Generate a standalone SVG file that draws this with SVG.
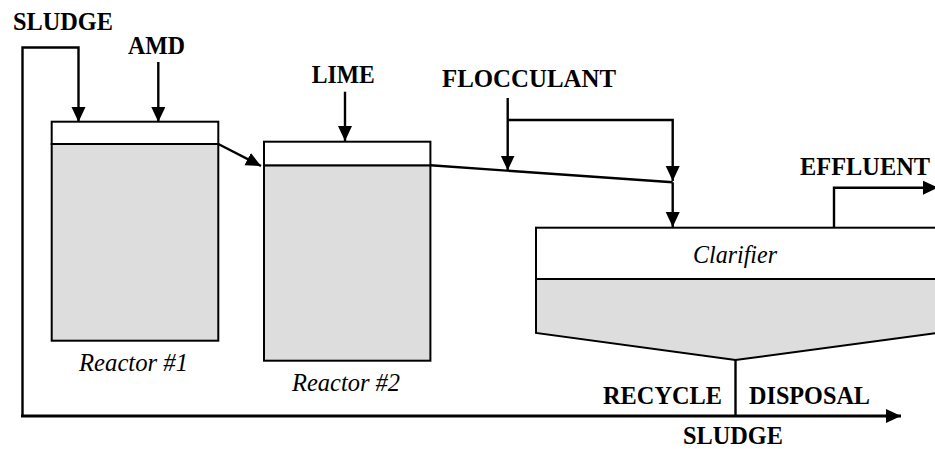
<svg xmlns="http://www.w3.org/2000/svg" width="935" height="449" viewBox="0 0 935 449">
  <style>
    .lbl { font-family: "Liberation Serif", "Times New Roman", serif; font-weight: bold; font-size: 24.5px; fill: #000; }
    .name { font-family: "Liberation Serif", "Times New Roman", serif; font-style: italic; font-size: 24.5px; fill: #000; }
    .tank { fill: #ffffff; stroke: #000; stroke-width: 2; }
    .sludge { fill: #dddddd; stroke: #000; stroke-width: 2; }
    .flow { fill: none; stroke: #000; stroke-width: 2.4; }
    .arr { marker-end: url(#ah); }
  </style>
  <defs>
    <marker id="ah" markerUnits="userSpaceOnUse" markerWidth="16" markerHeight="15" refX="15" refY="7" orient="auto">
      <path d="M0,0 L15,7 L0,14 z" fill="#000"/>
    </marker>
  </defs>

  <rect width="935" height="449" fill="#ffffff"/>

  <g id="reactor1">
    <rect class="sludge" x="51.7" y="144" width="166.6" height="196.7"/>
    <rect class="tank" x="51.7" y="121.7" width="166.6" height="22.3"/>
    <text class="name" x="79" y="371" textLength="109" lengthAdjust="spacingAndGlyphs">Reactor #1</text>
  </g>

  <g id="reactor2">
    <rect class="sludge" x="264" y="165.3" width="166.4" height="195.4"/>
    <rect class="tank" x="264" y="141.7" width="166.4" height="23.6"/>
    <text class="name" x="292" y="390.5" textLength="108" lengthAdjust="spacingAndGlyphs">Reactor #2</text>
  </g>

  <g id="clarifier">
    <polygon class="sludge" points="536,279 937,279 937,333 735.5,360 536,333"/>
    <rect class="tank" x="536" y="227.7" width="401" height="51.3"/>
    <text class="name" x="693" y="262.5" textLength="84" lengthAdjust="spacingAndGlyphs">Clarifier</text>
  </g>

  <g id="labels">
    <text class="lbl" x="13" y="29.5" textLength="100" lengthAdjust="spacingAndGlyphs">SLUDGE</text>
    <text class="lbl" x="128" y="53.5" textLength="57" lengthAdjust="spacingAndGlyphs">AMD</text>
    <text class="lbl" x="311.7" y="82.5" textLength="63" lengthAdjust="spacingAndGlyphs">LIME</text>
    <text class="lbl" x="442" y="87.3" textLength="174" lengthAdjust="spacingAndGlyphs">FLOCCULANT</text>
    <text class="lbl" x="800" y="175" textLength="130" lengthAdjust="spacingAndGlyphs">EFFLUENT</text>
    <text class="lbl" x="603" y="404" textLength="119" lengthAdjust="spacingAndGlyphs">RECYCLE</text>
    <text class="lbl" x="749" y="404" textLength="121" lengthAdjust="spacingAndGlyphs">DISPOSAL</text>
    <text class="lbl" x="683" y="444" textLength="100" lengthAdjust="spacingAndGlyphs">SLUDGE</text>
  </g>

  <g id="connectors">
    <path class="flow arr" d="M22.5,417 V47.5 H78.5 V122"/>
    <path class="flow arr" d="M21,416 H901" style="stroke-width:3"/>
    <path class="flow arr" d="M158.3,62 V122"/>
    <path class="flow arr" d="M218.3,144 L261,166"/>
    <path class="flow arr" d="M345,91.7 V141"/>
    <path class="flow" d="M430.4,165.3 L672.7,182.3"/>
    <path class="flow arr" d="M672.7,182.3 V227"/>
    <path class="flow arr" d="M507.7,98 V170.5"/>
    <path class="flow arr" d="M507.7,120 H672.7 V181"/>
    <path class="flow arr" d="M834,227.7 V187.7 H938"/>
    <path class="flow" d="M735.5,360 V416"/>
  </g>
</svg>
